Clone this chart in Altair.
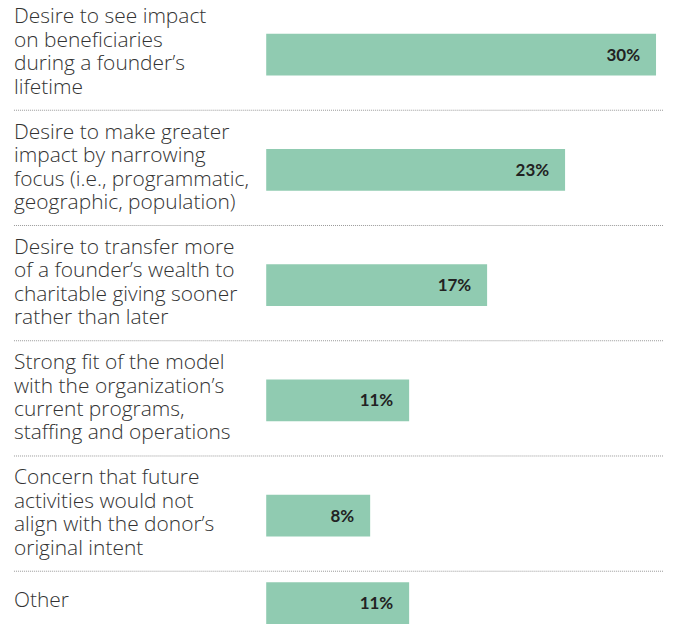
import altair as alt
import pandas as pd

labels = [
    "Desire to see impact\non beneficiaries\nduring a founder’s\nlifetime",
    "Desire to make greater\nimpact by narrowing\nfocus (i.e., programmatic,\ngeographic, population)",
    "Desire to transfer more\nof a founder’s wealth to\ncharitable giving sooner\nrather than later",
    "Strong fit of the model\nwith the organization’s\ncurrent programs,\nstaffing and operations",
    "Concern that future\nactivities would not\nalign with the donor’s\noriginal intent",
    "Other",
]
values = [30, 23, 17, 11, 8, 11]

df = pd.DataFrame({"label": labels, "value": values})
df["pct"] = df["value"].astype(str) + "%"
df["order"] = range(len(df))

BAR = "#90cbb1"
XSCALE = alt.Scale(domain=[0, 30], nice=False, zero=True)
LH = 23.5


def panel(data, height, with_rules):
    nlines = max(s.count("\n") + 1 for s in data["label"])
    base = alt.Chart(data)
    yenc = alt.Y("label:N", sort=None, axis=None,
                 scale=alt.Scale(paddingInner=0, paddingOuter=0))
    bars = base.mark_bar(height=42, yOffset=2, color=BAR).encode(
        x=alt.X("value:Q", scale=XSCALE, axis=None), y=yenc
    )
    vals = base.mark_text(
        align="right", baseline="middle", dx=-16, yOffset=3,
        font="Lato", fontWeight="bold", fontSize=17, color="#222222"
    ).encode(x=alt.X("value:Q", scale=XSCALE, axis=None), y=yenc, text="pct:N")
    labs = base.mark_text(
        align="left", baseline="middle", lineBreak="\n", lineHeight=LH,
        dy=-(nlines - 1) * LH / 2,
        font="Open Sans", fontWeight=300, fontSize=21, color="#333333"
    ).encode(x=alt.value(-253), y=yenc, text="label:N")
    layers = [bars, vals, labs]
    if with_rules:
        rules = base.mark_rule(strokeDash=[1, 1], color="#999999", strokeWidth=1).encode(
            x=alt.value(-253), x2=alt.value(399),
            y=alt.Y("label:N", sort=None, axis=None, bandPosition=1,
                    scale=alt.Scale(paddingInner=0, paddingOuter=0)),
        )
        layers.append(rules)
    return alt.layer(*layers).properties(width=391, height=height)


top = panel(df[df["order"] < 5], 578, True)
bottom = panel(df[df["order"] == 5], 58, False)

chart = alt.vconcat(top, bottom, spacing=0).properties(
    padding={"left": 5, "top": -14, "right": 0, "bottom": 0}
).configure_view(stroke=None).configure_concat(spacing=0)

chart.save("out.html", embed_options={"renderer": "svg", "actions": False})
